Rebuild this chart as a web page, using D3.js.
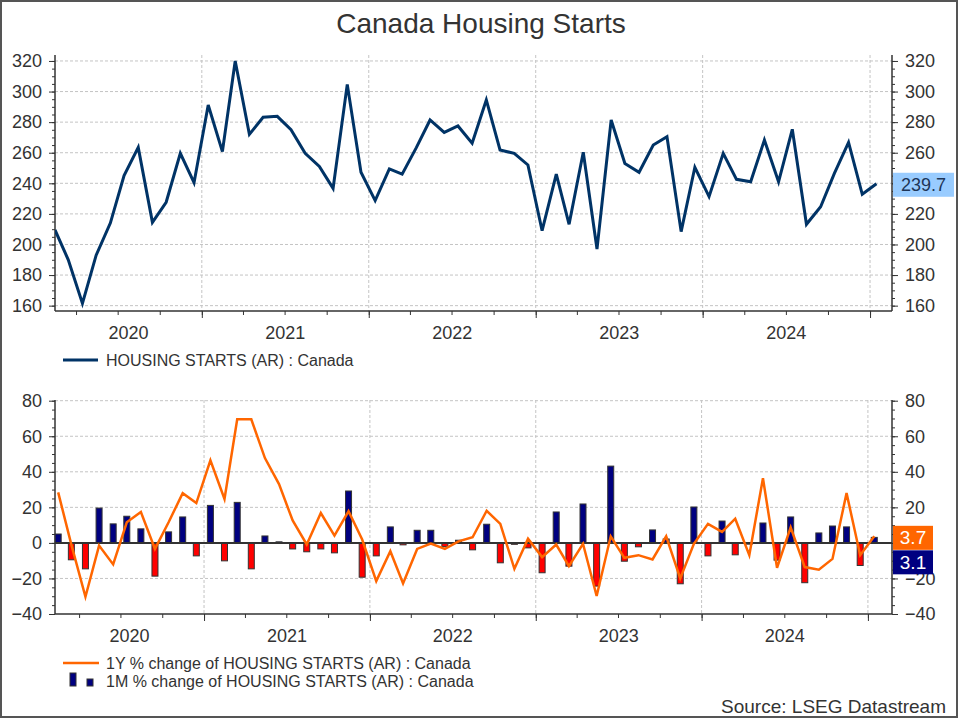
<!DOCTYPE html>
<html>
<head>
<meta charset="utf-8">
<script src="https://cdn.jsdelivr.net/npm/d3@7"></script>
<style>
  body { margin: 0; background: #fff; }
  svg { display: block; font-family: Arial, "Liberation Sans", sans-serif; }
</style>
</head>
<body>
<svg id="chart" width="960" height="720"></svg>
<script>
// monthly observations, Feb 2020 .. Jan 2025
var months = [
  '2020-02','2020-03','2020-04','2020-05','2020-06','2020-07','2020-08','2020-09','2020-10','2020-11','2020-12',
  '2021-01','2021-02','2021-03','2021-04','2021-05','2021-06','2021-07','2021-08','2021-09','2021-10','2021-11','2021-12',
  '2022-01','2022-02','2022-03','2022-04','2022-05','2022-06','2022-07','2022-08','2022-09','2022-10','2022-11','2022-12',
  '2023-01','2023-02','2023-03','2023-04','2023-05','2023-06','2023-07','2023-08','2023-09','2023-10','2023-11','2023-12',
  '2024-01','2024-02','2024-03','2024-04','2024-05','2024-06','2024-07','2024-08','2024-09','2024-10','2024-11','2024-12',
  '2025-01'
]

// HOUSING STARTS (AR), thousands
var housingStarts = [
  209.5, 190.0, 161.5, 193.0, 214.0, 245.0, 263.5, 214.5, 227.6, 259.6, 240.4,
  291.2, 260.7, 320.0, 272.0, 283.2, 283.8, 275.0, 259.6, 251.0, 236.7, 304.7, 247.2,
  228.7, 249.4, 246.0, 263.3, 281.4, 273.3, 277.5, 266.2, 294.5, 261.8, 259.6, 252.0,
  209.0, 246.0, 213.2, 260.3, 197.0, 281.4, 253.0, 247.2, 265.0, 270.5, 208.4, 250.5,
  231.3, 259.6, 242.6, 241.0, 268.3, 241.0, 275.3, 213.2, 224.7, 246.5, 266.8, 232.8,
  239.7
]

// 1M % change (bars)
var change1M = [
  5.0, -9.5, -14.6, 19.6, 10.7, 15.0, 7.9, -18.7, 6.2, 14.6, -7.3,
  21.1, -10.1, 22.8, -14.6, 3.9, 0.6, -3.4, -5.0, -3.4, -5.6, 29.2, -19.3,
  -7.3, 9.0, -1.1, 7.1, 7.1, -2.1, 1.5, -3.9, 10.5, -11.2, -0.8, -2.8,
  -16.8, 17.4, -13.1, 21.9, -24.3, 43.2, -10.3, -2.2, 7.3, 2.2, -23.0, 20.2,
  -7.3, 12.3, -6.7, -0.7, 11.2, -9.7, 14.6, -22.4, 5.6, 9.5, 9.0, -12.7,
  3.1
]

// 1Y % change (line)
var change1Y = [
  28.4, -1.0, -30.3, -1.5, -12.1, 11.6, 17.4, -3.4, 11.6, 28.0, 22.4,
  46.4, 24.7, 69.5, 69.5, 47.7, 33.1, 12.6, -0.9, 16.8, 4.1, 17.8, 1.9,
  -21.5, -4.7, -22.8, -3.4, -0.4, -3.4, 0.9, 3.2, 18.1, 10.7, -14.6, 2.4,
  -8.0, -0.9, -13.1, -0.5, -29.9, 3.7, -8.4, -6.9, -9.3, 3.7, -20.0, -0.5,
  10.7, 6.2, 13.6, -6.9, 36.4, -14.0, 8.8, -13.6, -15.1, -9.0, 28.0, -6.9,
  3.7
]

var yearLabels = ['2020', '2021', '2022', '2023', '2024']
var topTicks = d3.range(160, 321, 20)
var bottomTicks = d3.range(-40, 81, 20)

var navy = '#003366'
var orange = '#ff6600'
var barBlue = '#000080'
var barRed = '#ff0000'
var ink = '#333'

var parseMonth = d3.timeParse('%Y-%m')
var data = months.map((m, i) => ({
  date: d3.timeDay.offset(parseMonth(m), 14),
  level: housingStarts[i],
  m1: change1M[i],
  y1: change1Y[i]
}))

var left = 55, right = 892

var svg = d3.select('#chart')

svg.append('rect')
  .attr('x', 1).attr('y', 1).attr('width', 956).attr('height', 716)
  .attr('fill', '#fff').attr('stroke', '#555').attr('stroke-width', 2)

svg.append('text')
  .attr('x', 481).attr('y', 33)
  .attr('text-anchor', 'middle')
  .attr('font-size', 28).attr('fill', ink)
  .text('Canada Housing Starts')

// shared pieces for both panels; hideRight = right-axis labels sitting under the value boxes
function drawFrame(x, y, top, bottom, ticks, minorStep, labelY, zeroLine, hideRight){
  var g = svg.append('g')

  // horizontal grid
  g.append('g').selectAll('line')
    .data(ticks.filter(d => !(zeroLine && d == 0) && y(d) < bottom - 1))
    .join('line')
    .attr('x1', left).attr('x2', right)
    .attr('y1', d => y(d)).attr('y2', d => y(d))
    .attr('stroke', '#c4c4c4').attr('stroke-dasharray', '3,2')

  // vertical grid at year boundaries
  var years = yearLabels.map(d => new Date(+d + 1, 0, 1))
  g.append('g').selectAll('line')
    .data(years)
    .join('line')
    .attr('x1', d => x(d)).attr('x2', d => x(d))
    .attr('y1', top).attr('y2', bottom)
    .attr('stroke', '#c4c4c4').attr('stroke-dasharray', '3,2')

  var minor = d3.range(ticks[0], ticks[ticks.length - 1] + 0.1, minorStep)

  // left / right value axes
  ;[['left', left], ['right', right]].forEach(([side, px]) => {
    var mk = side == 'left' ? d3.axisLeft : d3.axisRight
    var minorAx = g.append('g').attr('transform', `translate(${px},0)`)
      .call(mk(y).tickValues(minor).tickSize(3).tickSizeOuter(0).tickFormat(''))
    minorAx.select('.domain').remove()
    minorAx.selectAll('line').attr('stroke', ink)

    var ax = g.append('g').attr('transform', `translate(${px},0)`)
      .call(mk(y).tickValues(ticks).tickSize(6).tickPadding(7).tickSizeOuter(0))
    ax.select('.domain').remove()
    ax.selectAll('line').attr('stroke', ink)
    ax.selectAll('text').attr('font-size', 18).attr('fill', ink)
      .attr('font-family', 'Arial, "Liberation Sans", sans-serif')
    if (side == 'right') {
      ax.selectAll('.tick').filter(d => hideRight.includes(d)).select('text').remove()
    }

    g.append('line')
      .attr('x1', px).attr('x2', px).attr('y1', top).attr('y2', bottom)
      .attr('stroke', ink).attr('stroke-width', 1.5)
  })

  // time axis
  var quarters = d3.timeMonth.every(3).range(x.domain()[0], x.domain()[1])
  var qAx = g.append('g').attr('transform', `translate(0,${bottom})`)
    .call(d3.axisBottom(x).tickValues(quarters).tickSize(4).tickSizeOuter(0).tickFormat(''))
  qAx.select('.domain').remove()
  qAx.selectAll('line').attr('stroke', ink)

  var yAx = g.append('g').attr('transform', `translate(0,${bottom})`)
    .call(d3.axisBottom(x).tickValues(years).tickSize(7).tickSizeOuter(0).tickFormat(''))
  yAx.select('.domain').remove()
  yAx.selectAll('line').attr('stroke', ink)

  g.append('line')
    .attr('x1', left).attr('x2', right).attr('y1', bottom).attr('y2', bottom)
    .attr('stroke', ink).attr('stroke-width', 1.5)

  g.append('g').selectAll('text')
    .data(yearLabels)
    .join('text')
    .attr('x', d => {
      var a = Math.max(x(new Date(+d, 0, 1)), left)
      var b = Math.min(x(new Date(+d + 1, 0, 1)), right)
      return (a + b) / 2
    })
    .attr('y', labelY)
    .attr('text-anchor', 'middle')
    .attr('font-size', 18).attr('fill', ink)
    .text(d => d)

  return g
}

// ---- top panel: level ----
var xTop = d3.scaleTime()
  .domain([new Date(2020, 1, 15), new Date(2025, 1, 18)])
  .range([left, right])
var yTop = d3.scaleLinear().domain([156.5, 323.9]).range([311, 55])

drawFrame(xTop, yTop, 55, 311, topTicks, 5, 339, false, [240])

svg.append('defs').append('clipPath').attr('id', 'clipTop')
  .append('rect').attr('x', left).attr('y', 50).attr('width', right - left).attr('height', 261)

svg.append('path')
  .datum(data)
  .attr('clip-path', 'url(#clipTop)')
  .attr('fill', 'none')
  .attr('stroke', navy)
  .attr('stroke-width', 3)
  .attr('stroke-linejoin', 'miter')
  .attr('d', d3.line().x(d => xTop(d.date)).y(d => yTop(d.level)))

var lastTop = data[data.length - 1]
var ly = yTop(lastTop.level) + 1
svg.append('rect')
  .attr('x', 893).attr('y', ly - 12).attr('width', 61).attr('height', 24)
  .attr('fill', '#99ccff')
svg.append('text')
  .attr('x', 923.5).attr('y', ly + 6.5)
  .attr('text-anchor', 'middle')
  .attr('font-size', 18).attr('fill', '#1d3557')
  .text(d3.format('.1f')(lastTop.level))

// legend top
svg.append('line')
  .attr('x1', 63).attr('x2', 98).attr('y1', 360).attr('y2', 360)
  .attr('stroke', navy).attr('stroke-width', 3)
svg.append('text')
  .attr('x', 106).attr('y', 366)
  .attr('font-size', 16).attr('fill', ink)
  .text('HOUSING STARTS (AR) : Canada')

// ---- bottom panel: % changes ----
var xBot = d3.scaleTime()
  .domain([new Date(2020, 1, 8), new Date(2025, 1, 23)])
  .range([left, right])
var yBot = d3.scaleLinear().domain([-40, 80]).range([614, 400.7])

drawFrame(xBot, yBot, 400, 614, bottomTicks, 5, 642, true, [0])

var barW = 6
svg.append('g').selectAll('rect')
  .data(data)
  .join('rect')
  .attr('x', d => xBot(d.date) - barW / 2)
  .attr('width', barW)
  .attr('y', d => yBot(Math.max(0, d.m1)))
  .attr('height', d => Math.abs(yBot(d.m1) - yBot(0)))
  .attr('fill', d => d.m1 >= 0 ? barBlue : barRed)
  .attr('stroke', ink).attr('stroke-width', 1)

svg.append('line')
  .attr('x1', left).attr('x2', right).attr('y1', yBot(0)).attr('y2', yBot(0))
  .attr('stroke', ink).attr('stroke-width', 2)

svg.append('path')
  .datum(data)
  .attr('fill', 'none')
  .attr('stroke', orange)
  .attr('stroke-width', 2.5)
  .attr('d', d3.line().x(d => xBot(d.date)).y(d => yBot(d.y1)))

var lastBot = data[data.length - 1]
var oy = yBot(lastBot.y1) - 10.5
svg.append('rect')
  .attr('x', 893).attr('y', oy).attr('width', 40).attr('height', 24)
  .attr('fill', orange)
svg.append('text')
  .attr('x', 913).attr('y', oy + 18.5)
  .attr('text-anchor', 'middle')
  .attr('font-size', 19).attr('fill', '#fff')
  .text(d3.format('.1f')(lastBot.y1))
svg.append('rect')
  .attr('x', 893).attr('y', oy + 24.5).attr('width', 40).attr('height', 24)
  .attr('fill', barBlue)
svg.append('text')
  .attr('x', 913).attr('y', oy + 43)
  .attr('text-anchor', 'middle')
  .attr('font-size', 19).attr('fill', '#fff')
  .text(d3.format('.1f')(lastBot.m1))

// legend bottom
svg.append('line')
  .attr('x1', 63).attr('x2', 99).attr('y1', 663).attr('y2', 663)
  .attr('stroke', orange).attr('stroke-width', 2.5)
svg.append('text')
  .attr('x', 106).attr('y', 669)
  .attr('font-size', 16).attr('fill', ink)
  .text('1Y % change of HOUSING STARTS (AR) : Canada')

svg.append('rect')
  .attr('x', 70).attr('y', 673).attr('width', 6).attr('height', 13)
  .attr('fill', barBlue).attr('stroke', ink)
svg.append('rect')
  .attr('x', 87).attr('y', 679).attr('width', 6).attr('height', 7)
  .attr('fill', barBlue).attr('stroke', ink)
svg.append('text')
  .attr('x', 106).attr('y', 687)
  .attr('font-size', 16).attr('fill', ink)
  .text('1M % change of HOUSING STARTS (AR) : Canada')

svg.append('text')
  .attr('x', 946).attr('y', 713)
  .attr('text-anchor', 'end')
  .attr('font-size', 19).attr('fill', ink)
  .text('Source: LSEG Datastream')
</script>
</body>
</html>
